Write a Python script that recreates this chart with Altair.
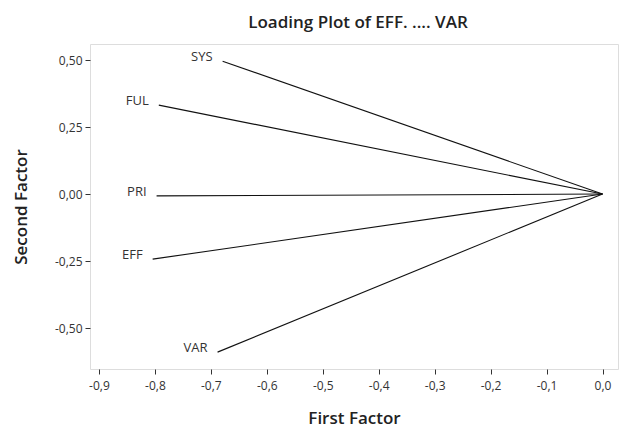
import altair as alt
import pandas as pd

variables = ["SYS", "FUL", "PRI", "EFF", "VAR"]
first_factor = [-0.679, -0.793, -0.797, -0.804, -0.688]
second_factor = [0.496, 0.332, -0.007, -0.243, -0.590]
x_ticks = [-0.9, -0.8, -0.7, -0.6, -0.5, -0.4, -0.3, -0.2, -0.1, 0.0]
y_ticks = [-0.5, -0.25, 0.0, 0.25, 0.5]

df = pd.DataFrame({"var": variables, "f1": first_factor, "f2": second_factor})
df["x0"] = 0.0
df["y0"] = 0.0

FONT = "Open Sans"

xscale = alt.Scale(domain=[-0.916, 0.0277], nice=False, zero=False)
yscale = alt.Scale(domain=[-0.653, 0.56], nice=False, zero=False)

xaxis = alt.Axis(values=x_ticks, title="First Factor", grid=False,
                 labelExpr="replace(replace(format(datum.value, '.1f'), '.', ','), '\u2212', '-')",
                 titleFont=FONT, titleFontSize=17, titleFontWeight=600, titleColor="#222",
                 labelFont=FONT, labelFontSize=12, labelColor="#333",
                 tickSize=5, tickColor="#333", domain=False, titlePadding=19, labelPadding=6)
yaxis = alt.Axis(values=y_ticks, title="Second Factor", grid=False,
                 labelExpr="replace(replace(format(datum.value, '.2f'), '.', ','), '\u2212', '-')",
                 titleFont=FONT, titleFontSize=17, titleFontWeight=600, titleColor="#222",
                 labelFont=FONT, labelFontSize=12, labelColor="#333",
                 tickSize=5, tickColor="#333", domain=False, titlePadding=24, labelPadding=3)

base = alt.Chart(df)

lines = base.mark_rule(color="#111", strokeWidth=1.1).encode(
    x=alt.X("f1:Q", scale=xscale, axis=xaxis),
    y=alt.Y("f2:Q", scale=yscale, axis=yaxis),
    x2="x0:Q",
    y2="y0:Q",
)

labels = base.mark_text(align="right", dx=-10, dy=-4, font=FONT, fontSize=13, color="#333").encode(
    x=alt.X("f1:Q", scale=xscale),
    y=alt.Y("f2:Q", scale=yscale),
    text="var:N",
)

chart = (lines + labels).properties(
    width=528,
    height=325,
    title=alt.TitleParams("Loading Plot of EFF. .... VAR", font=FONT, fontSize=17,
                          fontWeight=600, color="#222", anchor="middle", offset=12, dx=4),
    autosize=alt.AutoSizeParams(type="none"),
    padding={"left": 82, "top": 36, "right": 1, "bottom": 62},
).configure_view(stroke="#333", strokeWidth=1.2).configure(background="white")

chart.save("out.html", embed_options={"renderer": "svg", "actions": False})
